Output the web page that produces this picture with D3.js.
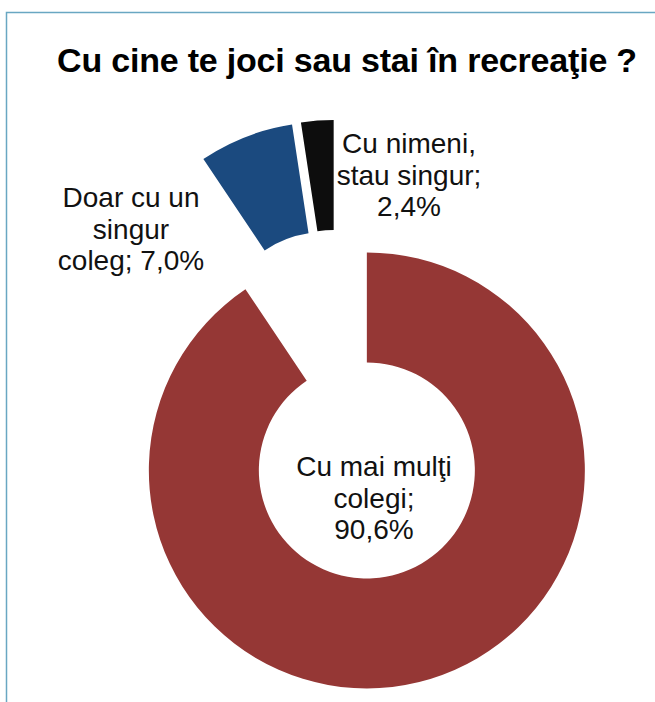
<!DOCTYPE html>
<html>
<head>
<meta charset="utf-8">
<script src="https://cdn.jsdelivr.net/npm/d3@7"></script>
<style>
  body { margin: 0; background: #fff; }
  svg { display: block; }
</style>
</head>
<body>
<div id="chart"></div>
<script>
// data
var title = "Cu cine te joci sau stai în recreaţie ?";
var categories = ["Cu mai mulţi colegi", "Doar cu un singur coleg", "Cu nimeni, stau singur"];
var values = [90.6, 7.0, 2.4];
var colors = ["#953735", "#1B4A7F", "#0D0D0D"];
// text of each data label, value appended below
var labelLines = [["Cu mai mulţi", "colegi;"], ["Doar cu un", "singur", "coleg;"], ["Cu nimeni,", "stau singur;"]];

var w = 655, h = 702;
var cx = 336, cy = 369;            // pie centre before explosion
var explode = [106, 31, 31];       // explosion distance of each slice
var rOuter = 218, rInner = 108;
var labelPos = [[374, 476], [131, 207], [409, 153]];
var lineH = 31.5;

var fmt = function(v) { return d3.format(".1f")(v).replace(".", ",") + "%"; };

var svg = d3.select("#chart")
  .append("svg")
    .attr("width", w)
    .attr("height", h);

// frame
svg.append("rect")
    .attr("x", 6.5)
    .attr("y", 12.5)
    .attr("width", w + 10)
    .attr("height", h + 10)
    .attr("fill", "none")
    .attr("stroke", "#69A7C2")
    .attr("stroke-width", 1.5);

svg.append("text")
    .attr("x", 347)
    .attr("y", 72)
    .attr("text-anchor", "middle")
    .style("font-family", "'Liberation Sans', Arial, sans-serif")
    .style("font-weight", "bold")
    .style("font-size", "34px")
    .style("letter-spacing", "-0.2px")
    .attr("fill", "#000")
    .text(title);

var pie = d3.pie()
    .sort(null)
    .value(function(d) { return d; });

var arc = d3.arc()
    .innerRadius(rInner)
    .outerRadius(rOuter);

var slices = pie(values);

svg.selectAll("path.slice")
    .data(slices)
    .enter().append("path")
    .attr("class", "slice")
    .attr("transform", function(d, i) {
      var a = (d.startAngle + d.endAngle) / 2;
      var x = cx + explode[i] * Math.sin(a);
      var y = cy - explode[i] * Math.cos(a);
      return "translate(" + x + "," + y + ")";
    })
    .attr("fill", function(d, i) { return colors[i]; })
    .attr("d", arc);

// data labels
var labels = svg.selectAll("text.lbl")
    .data(slices)
    .enter().append("text")
    .attr("class", "lbl")
    .attr("text-anchor", "middle")
    .style("font-family", "'Liberation Sans', Arial, sans-serif")
    .style("font-size", "28px")
    .attr("fill", "#111");

labels.each(function(d, i) {
  var lines = labelLines[i].slice();
  var last = fmt(values[i]);
  if (i == 1) lines[lines.length - 1] += " " + last;
  else lines.push(last);
  d3.select(this).selectAll("tspan")
    .data(lines)
    .enter().append("tspan")
    .attr("x", labelPos[i][0])
    .attr("y", function(l, j) { return labelPos[i][1] + j * lineH; })
    .text(function(l) { return l; });
});
</script>
</body>
</html>
